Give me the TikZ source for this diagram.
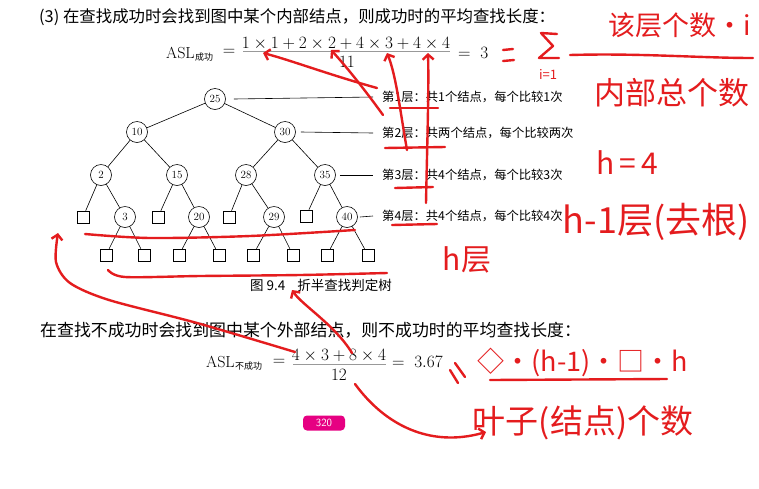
\documentclass[tikz,border=0pt]{standalone}
\usepackage{fontspec}
\newfontfamily\cjk{Noto Sans CJK SC}
\usetikzlibrary{arrows.meta}
\definecolor{hred}{RGB}{228,28,30}
\definecolor{badge}{RGB}{230,0,130}
\tikzset{
  innode/.style={circle,draw,line width=0.6pt,minimum size=21pt,inner sep=0pt,font=\fontsize{11}{11}\selectfont},
  extnode/.style={rectangle,draw,line width=0.6pt,minimum size=12pt,inner sep=0pt},
  treeedge/.style={draw,line width=0.6pt},
  lvl/.style={anchor=west,inner sep=0pt,font=\cjk\fontsize{12.3}{14}\selectfont},
  bodytext/.style={anchor=west,inner sep=0pt,font=\cjk\fontsize{#1}{18}\selectfont},
  formula/.style={inner sep=0pt,font=\fontsize{16}{18}\selectfont},
  fracbar/.style={gray!80,line width=0.8pt},
  pen/.style={hred,line width=2.4pt,line cap=round,line join=round},
  hand/.style={hred,inner sep=0pt,font=\cjk\fontsize{#1}{#1}\selectfont},
  redtip/.style={-{Straight Barb[length=5pt,width=11pt]}}
}
\begin{document}
\begin{tikzpicture}[x=1pt,y=-1pt]
\useasboundingbox (0,0) rectangle (759,488);
\fill[white] (0,0) rectangle (759,488);

% ---------- printed text ----------
\node[bodytext=16.4] (t1) at (39,17) {(3)\ 在查找成功时会找到图中某个内部结点，则成功时的平均查找长度：};

\node[formula,anchor=west] (asl1) at (166,53) {ASL};
\node[inner sep=0pt,anchor=west,font=\cjk\fontsize{9}{9}\selectfont] (sub1) at ([yshift=-4pt]asl1.east) {成功};
\node[formula] (eq1) at (229,52) {$=$};
\node[formula] (num1) at (346,44) {$1\times1+2\times2+4\times3+4\times4$};
\coordinate (b1l) at (243,51); \coordinate (b1r) at (450,51);
\draw[fracbar] (b1l) -- (b1r);
\node[formula] (den1) at (347,62) {$11$};
\node[formula,anchor=west] (res1) at (458,53) {$=\ 3$};

% tree
\node[innode] (n25) at (215,99) {25};
\node[innode] (n10) at (137,132) {10};
\node[innode] (n30) at (285,132) {30};
\node[innode] (n2) at (101,175) {2};
\node[innode] (n15) at (177,175) {15};
\node[innode] (n28) at (246,175) {28};
\node[innode] (n35) at (325,175) {35};
\node[extnode] (e1) at (83,217) {};
\node[innode] (n3) at (125,217) {3};
\node[extnode] (e2) at (158,217) {};
\node[innode] (n20) at (199,217) {20};
\node[extnode] (e3) at (229,217) {};
\node[innode] (n29) at (274,217) {29};
\node[extnode] (e4) at (306,216) {};
\node[innode] (n40) at (347,217) {40};
\node[extnode] (e5) at (106,255) {};
\node[extnode] (e6) at (144,255) {};
\node[extnode] (e7) at (179,255) {};
\node[extnode] (e8) at (219,255) {};
\node[extnode] (e9) at (253,255) {};
\node[extnode] (e10) at (293,255) {};
\node[extnode] (e11) at (327,255) {};
\node[extnode] (e12) at (368,255) {};
\foreach \a/\b in {n25/n10,n25/n30,n10/n2,n10/n15,n30/n28,n30/n35,n2/e1,n2/n3,n15/e2,n15/n20,n28/e3,n28/n29,n35/e4,n35/n40,n3/e5,n3/e6,n20/e7,n20/e8,n29/e9,n29/e10,n40/e11,n40/e12}
  \draw[treeedge] (\a) -- (\b);

\node[lvl] (L1) at (382,97) {第1层：共1个结点，每个比较1次};
\node[lvl] (L2) at (382,133) {第2层：共两个结点，每个比较两次};
\node[lvl] (L3) at (382,175) {第3层：共4个结点，每个比较3次};
\node[lvl] (L4) at (382,216) {第4层：共4个结点，每个比较4次};
\draw[treeedge] ([xshift=8pt]n25.east) -- ([xshift=-9pt]L1.west);
\draw[treeedge] ([xshift=5pt]n30.east) -- ([xshift=-9pt]L2.west);
\draw[treeedge] ([xshift=4pt]n35.east) -- ([xshift=-9pt]L3.west);
\draw[treeedge] ([xshift=2pt]n40.east) -- ([xshift=-9pt]L4.west);

\node[inner sep=0pt,anchor=west,font=\cjk\fontsize{13.5}{15}\selectfont] (cap) at (250,285) {图\ 9.4\hspace{12pt}折半查找判定树};

\node[bodytext=16.9] (t2) at (40,330) {在查找不成功时会找到图中某个外部结点，则不成功时的平均查找长度：};

\node[formula,anchor=west] (asl2) at (206,362) {ASL};
\node[inner sep=0pt,anchor=west,font=\cjk\fontsize{9}{9}\selectfont] (sub2) at ([yshift=-4pt]asl2.east) {不成功};
\node[formula] (eq2) at (279,362) {$=$};
\node[formula] (num2) at (339,356) {$4\times3+8\times4$};
\coordinate (b2l) at (293,364); \coordinate (b2r) at (386,364);
\draw[fracbar] (b2l) -- (b2r);
\node[formula] (den2) at (339,375) {$12$};
\node[formula,anchor=west] (res2) at (392,362) {$=\ 3.67$};

\node[fill=badge,rounded corners=4pt,minimum width=42pt,minimum height=15pt,inner sep=0pt,text=white,font=\sffamily\fontsize{11}{11}\selectfont] (pg) at (324,423) {320};

% ---------- red handwriting ----------
\coordinate (q1a) at (503,50); \coordinate (q1b) at (513,49);
\coordinate (q2a) at (503,61); \coordinate (q2b) at (514,60);
\draw[pen] (q1a) -- (q1b); \draw[pen] (q2a) -- (q2b);
% handwritten summation sign
\coordinate (sg1) at (557,34); \coordinate (sg2) at (541,33);
\coordinate (sg3) at (553,46); \coordinate (sg4) at (539,58);
\coordinate (sg5) at (559,58);
\draw[pen] (sg1) -- (sg2) -- (sg3) -- (sg4) -- (sg5);
\node[hand=13] (sigi) at (548,74) {i=1};
\coordinate (hb1) at (570,55); \coordinate (hb2) at (753,58);
\draw[pen] (hb1) .. controls (640,53) and (700,58) .. (hb2);
\node[hand=27] (hnum) at (680,25) {该层个数·i};
\node[hand=31] (hden) at (672,93) {内部总个数};
\node[hand=30] (hh4) at (627,163) {h\,=\,4};
\node[hand=36] (hh1) at (656,222) {h-1层(去根)};
\node[hand=30] (hhl) at (467,260) {h层};

\coordinate (s1a) at (450,370); \coordinate (s1b) at (458,383);
\coordinate (s2a) at (455,363); \coordinate (s2b) at (465,377);
\draw[pen] (s1a) -- (s1b); \draw[pen] (s2a) -- (s2b);
\node[hand=27] (hform) at (583,362) {◇·(h-1)·□·h};
\coordinate (u1a) at (490,380); \coordinate (u1b) at (667,379);
\draw[pen] (u1a) -- (u1b);
\node[hand=33] (hleaf) at (583,423) {叶子(结点)个数};

% arrows to the numerator terms
\coordinate (a1s) at (377,88); \coordinate (a1e) at (263,53);
\draw[pen,redtip] (a1s) .. controls (330,75) and (290,60) .. (a1e);
\coordinate (a2s) at (383,115); \coordinate (a2e) at (331,50);
\draw[pen,redtip] (a2s) .. controls (365,90) and (345,65) .. (a2e);
\coordinate (a3s) at (407,150); \coordinate (a3e) at (387,53);
\draw[pen,redtip] (a3s) .. controls (400,110) and (396,75) .. (a3e);
\coordinate (a4s) at (426,203); \coordinate (a4e) at (428,53);
\draw[pen,redtip] (a4s) .. controls (427,150) and (429,90) .. (a4e);
% cross strokes by the level labels
\coordinate (h1a) at (390,108); \coordinate (h1b) at (438,108);
\coordinate (h2a) at (385,148); \coordinate (h2b) at (445,147);
\coordinate (h3a) at (395,188); \coordinate (h3b) at (433,187);
\coordinate (h4a) at (392,225); \coordinate (h4b) at (437,224);
\draw[pen] (h1a) -- (h1b); \draw[pen] (h2a) -- (h2b);
\draw[pen] (h3a) -- (h3b); \draw[pen] (h4a) -- (h4b);

% underlines of the tree rows
\draw[pen] plot[smooth] coordinates {(85,234) (150,238) (250,236) (355,230)};
\draw[pen] plot[smooth] coordinates {(108,270) (125,277) (200,276) (300,275) (387,273)};

% long arrow from the fraction to the tree
\draw[pen,redtip] plot[smooth] coordinates {(295,352) (197,323) (109,300) (70,283) (56,262) (58,233)};
% arrow to the caption
\coordinate (c1s) at (352,353); \coordinate (c1e) at (292,290);
\draw[pen,redtip] (c1s) .. controls (335,325) and (302,305) .. (c1e);
% arrow to the leaf text
\coordinate (d1s) at (355,384); \coordinate (d1e) at (486,432);
\draw[pen,redtip] (d1s) .. controls (385,425) and (430,448) .. (d1e);
\end{tikzpicture}
\end{document}
